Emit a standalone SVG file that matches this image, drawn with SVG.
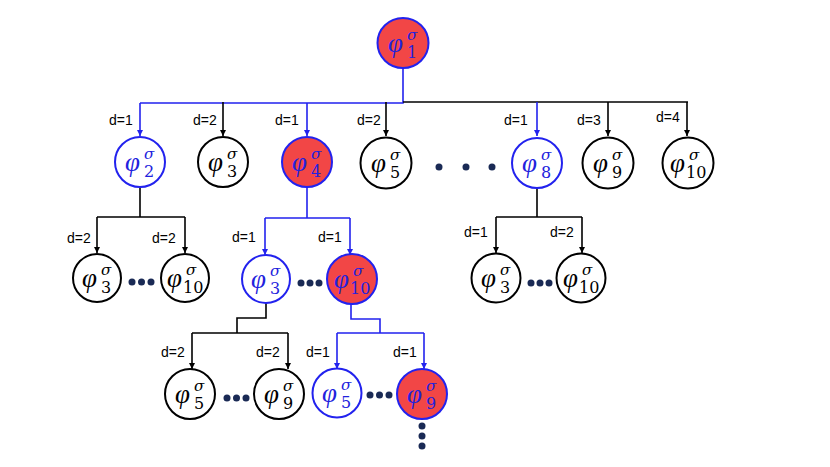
<svg xmlns="http://www.w3.org/2000/svg" width="830" height="467" viewBox="0 0 830 467">
<defs>
<marker id="ab" markerWidth="7" markerHeight="7" refX="6" refY="3.5" orient="auto" markerUnits="userSpaceOnUse"><path d="M0,0.5 L6,3.5 L0,6.5 z" fill="#000"/></marker>
<marker id="au" markerWidth="7" markerHeight="7" refX="6" refY="3.5" orient="auto" markerUnits="userSpaceOnUse"><path d="M0,0.5 L6,3.5 L0,6.5 z" fill="#2222ee"/></marker>
<style>
.nb{fill:#fff;stroke:#000;stroke-width:2}
.nu{fill:#fff;stroke:#2222ee;stroke-width:2}
.nr{fill:#f24646;stroke:#2222ee;stroke-width:2}
.phi{font-family:"Liberation Serif","DejaVu Serif",serif;font-style:italic;font-size:27px}
.sup{font-family:"DejaVu Serif",serif;font-style:italic;font-size:15px}
.sub{font-family:"DejaVu Serif",serif;font-size:16px}
.tb{fill:#000}
.tu{fill:#2222dd}
.lb{font-family:"Liberation Sans",Arial,sans-serif;font-size:14px;fill:#000}
.cb{fill:none;stroke:#000;stroke-width:1.6}
.cu{fill:none;stroke:#2222ee;stroke-width:1.6}
.dot{fill:#1a2a55}
</style>
</defs>
<g id="connectors">
<path class="cu" d="M403,68 V103 H140"/>
<path class="cb" d="M403,102 H688"/>
<path class="cu" d="M140,103 V136" marker-end="url(#au)"/>
<path class="cb" d="M223,102 V136" marker-end="url(#ab)"/>
<path class="cu" d="M307,103 V136" marker-end="url(#au)"/>
<path class="cb" d="M386,102 V136" marker-end="url(#ab)"/>
<path class="cu" d="M537,102 V136" marker-end="url(#au)"/>
<path class="cb" d="M608,102 V136" marker-end="url(#ab)"/>
<path class="cb" d="M687,102 V136" marker-end="url(#ab)"/>
<path class="cb" d="M140,187 V217 M97,217 H185"/>
<path class="cb" d="M97,217 V253" marker-end="url(#ab)"/>
<path class="cb" d="M185,217 V253" marker-end="url(#ab)"/>
<path class="cu" d="M307,187 V218 M265,218 H350"/>
<path class="cu" d="M265,218 V255" marker-end="url(#au)"/>
<path class="cu" d="M350,218 V255" marker-end="url(#au)"/>
<path class="cb" d="M537,187 V217 M496,217 H582"/>
<path class="cb" d="M496,217 V253" marker-end="url(#ab)"/>
<path class="cb" d="M582,217 V253" marker-end="url(#ab)"/>
<path class="cb" d="M266,303 V318 H237 V333 M192,333 H288"/>
<path class="cb" d="M192,333 V369" marker-end="url(#ab)"/>
<path class="cb" d="M288,333 V369" marker-end="url(#ab)"/>
<path class="cu" d="M351,304 V319 H380 V333 M337,333 H424"/>
<path class="cu" d="M337,333 V369" marker-end="url(#au)"/>
<path class="cu" d="M424,333 V369" marker-end="url(#au)"/>
<g id="labels">
<text class="lb" x="109" y="125">d=1</text>
<text class="lb" x="193" y="125">d=2</text>
<text class="lb" x="275" y="125">d=1</text>
<text class="lb" x="357" y="125">d=2</text>
<text class="lb" x="504" y="125">d=1</text>
<text class="lb" x="577" y="125">d=3</text>
<text class="lb" x="656" y="122">d=4</text>
<text class="lb" x="67" y="243">d=2</text>
<text class="lb" x="152" y="243">d=2</text>
<text class="lb" x="232" y="242">d=1</text>
<text class="lb" x="318" y="242">d=1</text>
<text class="lb" x="464" y="237">d=1</text>
<text class="lb" x="550" y="237">d=2</text>
<text class="lb" x="161" y="357">d=2</text>
<text class="lb" x="256" y="357">d=2</text>
<text class="lb" x="306" y="357">d=1</text>
<text class="lb" x="393" y="357">d=1</text>
</g>
</g>
<g id="n1"><ellipse class="nr" cx="403" cy="43" rx="25.5" ry="25"/><text class="phi tu" x="388" y="52">φ</text><text class="sup tu" x="407" y="40">σ</text><text class="sub tu" x="407" y="58">1</text></g>
<g id="n2"><circle class="nu" cx="140" cy="162" r="25"/><text class="phi tu" x="125" y="171">φ</text><text class="sup tu" x="144" y="159">σ</text><text class="sub tu" x="144" y="177">2</text></g>
<g id="n3"><circle class="nb" cx="223" cy="162" r="25"/><text class="phi tb" x="208" y="171">φ</text><text class="sup tb" x="227" y="159">σ</text><text class="sub tb" x="227" y="177">3</text></g>
<g id="n4"><circle class="nr" cx="307" cy="162" r="25"/><text class="phi tu" x="292" y="171">φ</text><text class="sup tu" x="311" y="159">σ</text><text class="sub tu" x="311" y="177">4</text></g>
<g id="n5"><circle class="nb" cx="386" cy="163" r="25.5"/><text class="phi tb" x="371" y="172">φ</text><text class="sup tb" x="390" y="160">σ</text><text class="sub tb" x="390" y="178">5</text></g>
<g id="n8"><circle class="nu" cx="537" cy="163" r="25"/><text class="phi tu" x="522" y="172">φ</text><text class="sup tu" x="541" y="160">σ</text><text class="sub tu" x="541" y="178">8</text></g>
<g id="n9"><circle class="nb" cx="608" cy="163" r="25.5"/><text class="phi tb" x="593" y="172">φ</text><text class="sup tb" x="612" y="160">σ</text><text class="sub tb" x="612" y="178">9</text></g>
<g id="n10"><circle class="nb" cx="688" cy="163" r="25.5"/><text class="phi tb" x="670" y="172">φ</text><text class="sup tb" x="689" y="160">σ</text><text class="sub tb" x="686" y="178">10</text></g>
<g id="dots1"><circle class="dot" cx="439" cy="167" r="3.5"/><circle class="dot" cx="466" cy="167" r="3.5"/><circle class="dot" cx="492" cy="167" r="3.5"/></g>
<g id="n2a"><circle class="nb" cx="97" cy="278" r="24"/><text class="phi tb" x="82" y="287">φ</text><text class="sup tb" x="101" y="275">σ</text><text class="sub tb" x="101" y="293">3</text></g>
<g id="n2b"><circle class="nb" cx="185" cy="278" r="24"/><text class="phi tb" x="167" y="287">φ</text><text class="sup tb" x="186" y="275">σ</text><text class="sub tb" x="183" y="293">10</text></g>
<g id="dots2"><circle class="dot" cx="132" cy="282" r="3.5"/><circle class="dot" cx="141.5" cy="282" r="3.5"/><circle class="dot" cx="151" cy="282" r="3.5"/></g>
<g id="n4a"><circle class="nu" cx="266" cy="279" r="24"/><text class="phi tu" x="251" y="288">φ</text><text class="sup tu" x="270" y="276">σ</text><text class="sub tu" x="270" y="294">3</text></g>
<g id="n4b"><circle class="nr" cx="352" cy="279" r="25"/><text class="phi tu" x="334" y="288">φ</text><text class="sup tu" x="353" y="276">σ</text><text class="sub tu" x="350" y="294">10</text></g>
<g id="dots3"><circle class="dot" cx="301" cy="283" r="3.5"/><circle class="dot" cx="310" cy="283" r="3.5"/><circle class="dot" cx="319" cy="283" r="3.5"/></g>
<g id="n8a"><circle class="nb" cx="496" cy="278" r="24.5"/><text class="phi tb" x="481" y="287">φ</text><text class="sup tb" x="500" y="275">σ</text><text class="sub tb" x="500" y="293">3</text></g>
<g id="n8b"><circle class="nb" cx="581" cy="278" r="24.5"/><text class="phi tb" x="563" y="287">φ</text><text class="sup tb" x="582" y="275">σ</text><text class="sub tb" x="579" y="293">10</text></g>
<g id="dots4"><circle class="dot" cx="531" cy="283" r="3.5"/><circle class="dot" cx="540" cy="283" r="3.5"/><circle class="dot" cx="549" cy="283" r="3.5"/></g>
<g id="n3a"><circle class="nb" cx="190" cy="394" r="25"/><text class="phi tb" x="175" y="403">φ</text><text class="sup tb" x="194" y="391">σ</text><text class="sub tb" x="194" y="409">5</text></g>
<g id="n3b"><circle class="nb" cx="279" cy="394" r="25"/><text class="phi tb" x="264" y="403">φ</text><text class="sup tb" x="283" y="391">σ</text><text class="sub tb" x="283" y="409">9</text></g>
<g id="dots5"><circle class="dot" cx="227" cy="398" r="3.5"/><circle class="dot" cx="236.5" cy="398" r="3.5"/><circle class="dot" cx="246" cy="398" r="3.5"/></g>
<g id="n10a"><circle class="nu" cx="337" cy="393" r="24.5"/><text class="phi tu" x="322" y="402">φ</text><text class="sup tu" x="341" y="390">σ</text><text class="sub tu" x="341" y="408">5</text></g>
<g id="n10b"><circle class="nr" cx="422" cy="394" r="25"/><text class="phi tu" x="407" y="403">φ</text><text class="sup tu" x="426" y="391">σ</text><text class="sub tu" x="426" y="409">9</text></g>
<g id="dots6"><circle class="dot" cx="370" cy="395" r="3.5"/><circle class="dot" cx="379.5" cy="395" r="3.5"/><circle class="dot" cx="389" cy="395" r="3.5"/></g>
<g id="dots7"><circle class="dot" cx="422" cy="426" r="3.5"/><circle class="dot" cx="422" cy="436" r="3.5"/><circle class="dot" cx="422" cy="446" r="3.5"/></g>
</svg>
